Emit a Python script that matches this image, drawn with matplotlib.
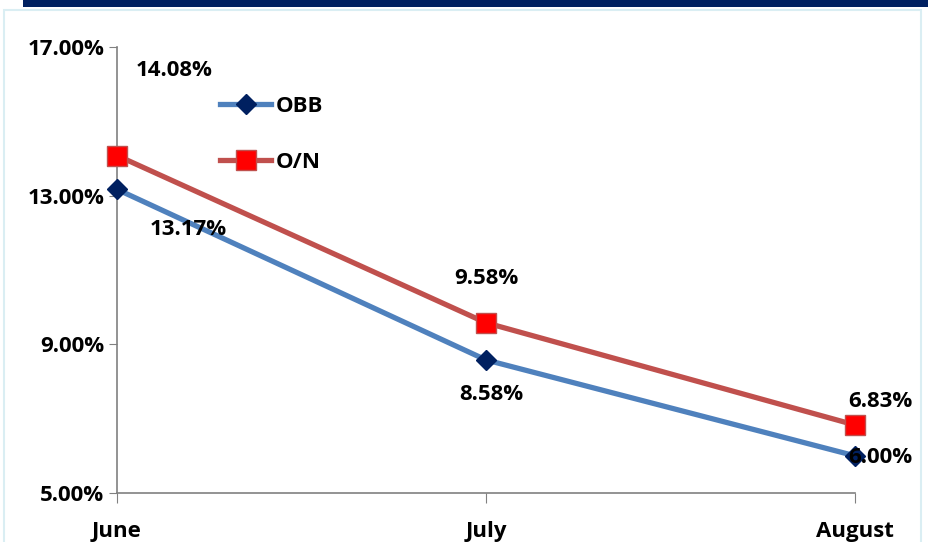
import matplotlib.pyplot as plt
from matplotlib import patches

months = ["June", "July", "August"]
obb = [13.17, 8.58, 6.00]
on = [14.08, 9.58, 6.83]
y_ticks = [5, 9, 13, 17]

W, H = 929, 542
fig = plt.figure(figsize=(W / 100, H / 100), dpi=100)
plt.rcParams['font.family'] = ['Open Sans', 'DejaVu Sans']
plt.rcParams['font.weight'] = 'bold'

# navy bar on top and light frame
fig.patches.append(patches.Rectangle((23 / W, 1 - 7 / H), 1 - 23 / W, 7 / H,
                                     transform=fig.transFigure, facecolor='#002060', edgecolor='none'))
fig.patches.append(patches.Rectangle((4 / W, -0.01), 917 / W, 1 - 10 / H + 0.01,
                                     transform=fig.transFigure, facecolor='none',
                                     edgecolor='#DAEEF3', linewidth=1.5))

ax = fig.add_axes([117 / W, 1 - 493 / H, (855 - 117) / W, (493 - 47) / H])
x = list(range(len(months)))

ax.plot(x, obb, color='#4F81BD', linewidth=3.8, marker='D', markersize=10,
        markerfacecolor='#002060', markeredgecolor='#002060', label='OBB', zorder=3,
        clip_on=False)
ax.plot(x, on, color='#C0504D', linewidth=3.8, marker='s', markersize=14,
        markerfacecolor='#FF0000', markeredgecolor='#C0504D', label='O/N', zorder=3,
        clip_on=False)

fs = 16
ax.set_xlim(0, 2)
ax.set_ylim(5, 17)
ax.set_yticks(y_ticks)
ax.set_yticklabels([f"{v:.2f}%" for v in y_ticks])
ax.set_xticks(x)
ax.set_xticklabels(months)
ax.tick_params(axis='y', length=6, color='#808080', labelsize=fs, pad=3)
ax.tick_params(axis='x', length=7, color='#808080', labelsize=fs, pad=13)
for lab in ax.get_xticklabels() + ax.get_yticklabels():
    lab.set_fontweight('bold')

for s in ['top', 'right']:
    ax.spines[s].set_visible(False)
for s in ['left', 'bottom']:
    ax.spines[s].set_color('#808080')
    ax.spines[s].set_linewidth(1.2)

# data labels
lab_kw = dict(fontsize=fs, fontweight='bold', ha='center', va='center', zorder=4)
ax.annotate(f"{on[0]:.2f}%", (x[0], on[0]), xytext=(57, 85), textcoords='offset pixels', **lab_kw)
ax.annotate(f"{obb[0]:.2f}%", (x[0], obb[0]), xytext=(71, -40), textcoords='offset pixels', **lab_kw)
ax.annotate(f"{on[1]:.2f}%", (x[1], on[1]), xytext=(0, 44), textcoords='offset pixels', **lab_kw)
ax.annotate(f"{obb[1]:.2f}%", (x[1], obb[1]), xytext=(5, -35), textcoords='offset pixels', **lab_kw)
ax.annotate(f"{on[2]:.2f}%", (x[2], on[2]), xytext=(25, 23), textcoords='offset pixels', **lab_kw)
ax.annotate(f"{obb[2]:.2f}%", (x[2], obb[2]), xytext=(25, -2), textcoords='offset pixels', **lab_kw)

leg = ax.legend(loc='upper left', bbox_to_anchor=(92 / 738, 1 - 38 / 446), frameon=False,
                handlelength=2.3, labelspacing=1.55, handletextpad=0.2, borderpad=0,
                prop={'weight': 'bold', 'size': fs})

fig.savefig('out.png', dpi=100)
